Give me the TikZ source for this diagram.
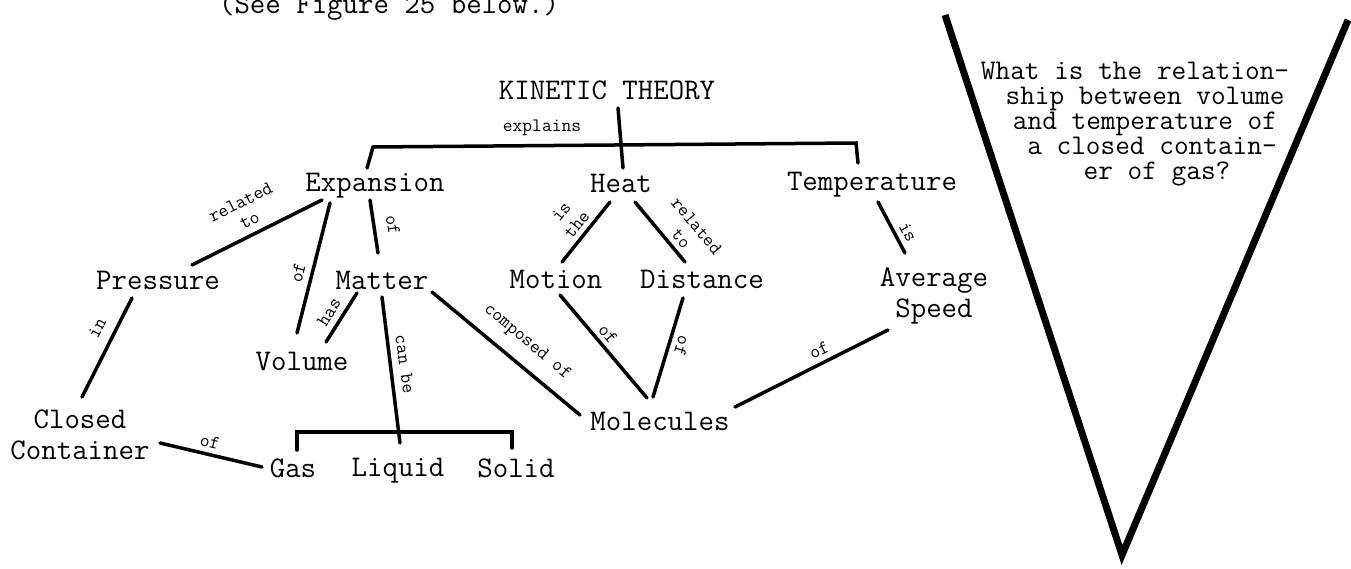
\documentclass[tikz,border=0pt]{standalone}
\usepackage{fontspec}
\usepackage{tikz}
\usetikzlibrary{calc}
\newfontfamily\typefont{Latin Modern Mono}

\begin{document}
\begin{tikzpicture}[x=1pt, y=-1pt,
    concept/.style={font=\typefont\fontsize{30}{31}\selectfont, inner sep=0pt, anchor=base},
    twoline/.style={font=\typefont\fontsize{30}{31}\selectfont, inner sep=0pt, align=center},
    rel/.style={font=\typefont\fontsize{19}{20}\selectfont, inner sep=0pt, align=center},
    link/.style={line width=3.5pt, line cap=round},
]
    \useasboundingbox (0,0) rectangle (1351,569);

    % Caption line, cut by the top edge
    \node[concept] (seefig) at (389,14) {(See Figure 25 below.)};

    % Concepts
    \node[concept] (kinetic)     at (607,100) {KINETIC THEORY};
    \node[concept] (expansion)   at (375,192) {Expansion};
    \node[concept] (heat)        at (621,193) {Heat};
    \node[concept] (temperature) at (872,191) {Temperature};
    \node[concept] (pressure)    at (158,289) {Pressure};
    \node[concept] (matter)      at (382,289) {Matter};
    \node[concept] (motion)      at (556,288) {Motion};
    \node[concept] (distance)    at (702,288) {Distance};
    \node[twoline] (average)     at (934,296) {Average\\Speed};
    \node[concept] (volume)      at (302,370) {Volume};
    \node[twoline] (container)   at (80,435)  {Closed\\Container};
    \node[concept] (gas)         at (293,477) {Gas};
    \node[concept] (liquid)      at (398,476) {Liquid};
    \node[concept] (solid)       at (516,477) {Solid};
    \node[concept] (molecules)   at (660,430) {Molecules};

    % Bars
    \coordinate (ktL) at (373,147);
    \coordinate (ktR) at (856,143);
    \coordinate (canL) at (297,432);
    \coordinate (canR) at (512,432);

    % Links
    \draw[link] ($(kinetic.base)+(11,8)$) -- ($(heat.base)+(2,-25)$);
    \draw[link] ($(expansion.base)+(-8,-24)$) -- (ktL) -- (ktR) -- ($(temperature.base)+(-14,-28)$);
    \draw[link] ($(expansion.base)+(-53,8)$) -- ($(pressure.base)+(34,-24)$);
    \draw[link] ($(expansion.base)+(-45,11)$) -- ($(volume.base)+(-5,-37)$);
    \draw[link] ($(expansion.base)+(-5,8)$) -- ($(matter.base)+(-4,-36)$);
    \draw[link] ($(matter.base)+(-25,4)$) -- ($(volume.base)+(24,-28)$);
    \draw[link] ($(matter.base)+(0,8)$) -- ($(liquid.base)+(2,-33)$);
    \draw[link] ($(gas.base)+(4,-27)$) -- (canL) -- (canR) -- ($(solid.base)+(-4,-29)$);
    \draw[link] ($(matter.base)+(50,3)$) -- ($(molecules.base)+(-80,-15)$);
    \draw[link] ($(pressure.base)+(-26,9)$) -- ($(container.center)+(2,-38)$);
    \draw[link] ($(container.center)+(80,8)$) -- ($(gas.base)+(-31,-10)$);
    \draw[link] ($(heat.base)+(-11,9)$) -- ($(motion.base)+(6,-26)$);
    \draw[link] ($(heat.base)+(14,9)$) -- ($(distance.base)+(-17,-26)$);
    \draw[link] ($(motion.base)+(4,7)$) -- ($(molecules.base)+(-13,-32)$);
    \draw[link] ($(distance.base)+(-19,10)$) -- ($(molecules.base)+(-7,-33)$);
    \draw[link] ($(temperature.base)+(6,11)$) -- ($(average.center)+(-29,-43)$);
    \draw[link] ($(average.center)+(-46,34)$) -- ($(molecules.base)+(75,-23)$);

    % Link labels
    \node[rel] (lexplains) at (542,128) {explains};
    \node[rel, rotate=26.6] (lrelto1) at (245,211) {related\\to};
    \node[rel, rotate=76] (lofvol) at (298,273) {of};
    \node[rel, rotate=-81] (lofmat) at (393,225) {of};
    \node[rel, rotate=63] (lin) at (97,328) {in};
    \node[rel, rotate=58] (lhas) at (329,312) {has};
    \node[rel, rotate=-82] (lcanbe) at (405,364) {can be};
    \node[rel, rotate=-40] (lcomposed) at (527,342) {composed of};
    \node[rel, rotate=-13] (lofgas) at (210,442) {of};
    \node[rel, rotate=51] (listhe) at (569,218) {is\\the};
    \node[rel, rotate=-50] (lrelto2) at (689,232) {related\\to};
    \node[rel, rotate=-50] (lofmot) at (608,334) {of};
    \node[rel, rotate=-107] (lofdis) at (682,346) {of};
    \node[rel, rotate=-62] (lis) at (908,232) {is};
    \node[rel, rotate=26.7] (lofavg) at (819,350) {of};

    % Question funnel
    \draw[line width=7pt] (945,15) -- (1122,555) -- (1348,20);
    \node[font=\typefont\fontsize{28.5}{25}\selectfont, align=center, inner sep=0pt] (question) at (1145,124)
        {What is the relation-\hspace*{20pt}\\ship between volume\hspace*{8pt}\\and temperature of\\\hspace*{14pt}a closed contain-\\\hspace*{24pt}er of gas?};
\end{tikzpicture}
\end{document}
